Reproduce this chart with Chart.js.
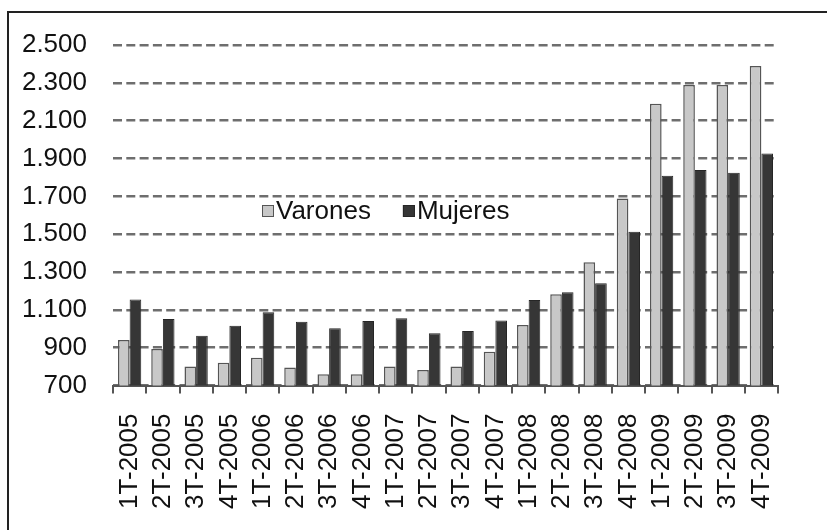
<!DOCTYPE html>
<html>
<head>
<meta charset="utf-8">
<script src="https://cdn.jsdelivr.net/npm/chart.js@4/dist/chart.umd.min.js"></script>
<style>
    html, body { margin: 0; padding: 0; background: #fff; overflow: hidden; }
    #wrap { position: relative; width: 827px; height: 530px; }
    #frame { position: absolute; left: 7px; top: 11px; width: 900px; height: 600px; border-top: 2px solid #222; border-left: 2px solid #222; }
    canvas { position: absolute; left: 0; top: 0; }
</style>
</head>
<body>
<div id="wrap">
    <div id="frame"></div>
    <canvas id="chart" width="827" height="530"></canvas>
</div>
<script>
(function () {
    'use strict';

    var quarters = ['1T-2005', '2T-2005', '3T-2005', '4T-2005', '1T-2006', '2T-2006', '3T-2006', '4T-2006',
        '1T-2007', '2T-2007', '3T-2007', '4T-2007', '1T-2008', '2T-2008', '3T-2008', '4T-2008',
        '1T-2009', '2T-2009', '3T-2009', '4T-2009'];
    var varones = [940, 893, 800, 820, 847, 795, 760, 760, 800, 782, 800, 879, 1020, 1182, 1351, 1689, 2189, 2288, 2288, 2389];
    var mujeres = [1155, 1051, 963, 1016, 1087, 1037, 1002, 1041, 1055, 976, 988, 1043, 1152, 1193, 1240, 1513, 1809, 1839, 1825, 1927];
    var yTicks = [700, 900, 1100, 1300, 1500, 1700, 1900, 2100, 2300, 2500];

    var FONT = '"Liberation Sans", Arial, sans-serif';

    // legend drawn inside the plot, as in the original
    var innerLegend = {
        id: 'innerLegend',
        afterDraw: function (chart) {
            var ctx = chart.ctx;
            var x = 262, y = 211;
            ctx.save();
            ctx.font = '26px ' + FONT;
            ctx.textBaseline = 'middle';
            chart.data.datasets.forEach(function (ds) {
                ctx.fillStyle = ds.backgroundColor;
                ctx.fillRect(x, y - 6, 12, 12);
                ctx.strokeStyle = ds.borderColor;
                ctx.lineWidth = 1;
                ctx.strokeRect(x + 0.5, y - 5.5, 11, 11);
                ctx.fillStyle = '#111';
                ctx.fillText(ds.label, x + 14, y + 1);
                x += 14 + ctx.measureText(ds.label).width + 32;
            });
            ctx.restore();
        }
    };

    new Chart(document.getElementById('chart'), {
        type: 'bar',
        data: {
            labels: quarters,
            datasets: [
                { label: 'Varones', data: varones, backgroundColor: '#c8c8c8', borderColor: '#555', borderWidth: 1.5 },
                { label: 'Mujeres', data: mujeres, backgroundColor: '#363636', borderColor: '#262626', borderWidth: 1 }
            ]
        },
        options: {
            responsive: false,
            animation: false,
            layout: { padding: { left: 0, top: 45, right: 49, bottom: 0 } },
            datasets: { bar: { categoryPercentage: 0.7, barPercentage: 1 } },
            plugins: { legend: { display: false }, tooltip: { enabled: false } },
            scales: {
                x: {
                    grid: { display: true, offset: true, drawOnChartArea: false, drawTicks: true, tickLength: 8, color: '#555', lineWidth: 2 },
                    border: { display: true, color: '#555', width: 2 },
                    ticks: { autoSkip: false, minRotation: 90, maxRotation: 90, padding: 20, color: '#111', font: { family: FONT, size: 26 } },
                    afterFit: function (s) { s.height = 530 - 385.5; }
                },
                y: {
                    min: 700, max: 2500,
                    afterBuildTicks: function (s) { s.ticks = yTicks.map(function (v) { return { value: v }; }); },
                    grid: { color: '#6e6e6e', lineWidth: 2.5, drawTicks: false },
                    border: { display: false, dash: [9, 4.3] },
                    ticks: {
                        padding: 26, color: '#111', font: { family: FONT, size: 26 },
                        callback: function (v) { return v.toLocaleString('es-ES', { useGrouping: 'always' }).replace(/,/g, '.'); }
                    },
                    afterFit: function (s) { s.width = 113; }
                }
            }
        },
        plugins: [innerLegend]
    });
})();
</script>
</body>
</html>
